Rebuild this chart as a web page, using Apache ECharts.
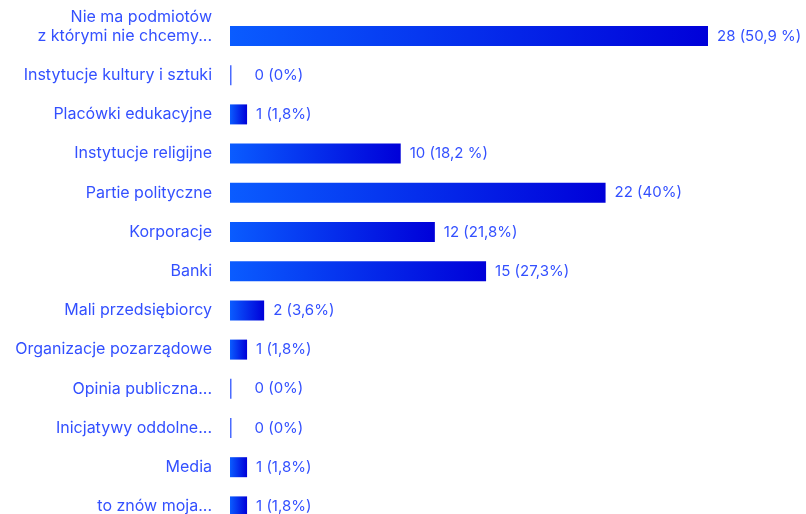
<!DOCTYPE html>
<html>
<head>
<meta charset="utf-8">
<title>Podmioty</title>
<script src="https://cdn.jsdelivr.net/npm/echarts@6/dist/echarts.min.js"></script>
<style>
  html, body { margin: 0; padding: 0; background: #ffffff; overflow: hidden; }
  #chart { width: 806px; height: 526px; }
</style>
</head>
<body>
<div id="chart"></div>
<script>
// Categories, top to bottom
const categories = [
  'Nie ma podmiotów\nz którymi nie chcemy...\n',
  'Instytucje kultury i sztuki',
  'Placówki edukacyjne',
  'Instytucje religijne',
  'Partie polityczne',
  'Korporacje',
  'Banki',
  'Mali przedsiębiorcy',
  'Organizacje pozarządowe',
  'Opinia publiczna...',
  'Inicjatywy oddolne...',
  'Media',
  'to znów moja...'
];

// Number of answers per category
const counts = [28, 0, 1, 10, 22, 12, 15, 2, 1, 0, 0, 1, 1];

// Share of answers, as printed next to each bar
const shares = ['50,9 %', '0%', '1,8%', '18,2 %', '40%', '21,8%', '27,3%', '3,6%', '1,8%', '0%', '0%', '1,8%', '1,8%'];

const textBlue = '#3350ff';
const fontFamily = 'Inter, "Noto Sans", sans-serif';

// Empty categories get a hairline marker and their label sits a little further out
const barData = counts.map(v => v === 0
  ? { value: v, itemStyle: { color: '#4a6bff' }, label: { distance: 23 } }
  : v);

// The last row runs past the bottom edge of the page, so the canvas is a little taller
const chart = echarts.init(document.getElementById('chart'), null, { renderer: 'canvas' });

chart.setOption({
  animation: false,
  backgroundColor: '#ffffff',
  grid: { left: 230, right: 98, top: 16.4, bottom: 0, containLabel: false },
  xAxis: {
    type: 'value',
    min: 0,
    max: 28,
    show: false
  },
  yAxis: {
    type: 'category',
    inverse: true,
    data: categories,
    axisLine: { show: false },
    axisTick: { show: false },
    splitLine: { show: false },
    axisLabel: {
      color: textBlue,
      fontFamily: fontFamily,
      fontSize: 16,
      lineHeight: 19,
      margin: 18,
      align: 'right'
    }
  },
  series: [{
    type: 'bar',
    data: barData,
    barWidth: 20,
    barMinHeight: 1.5,
    itemStyle: {
      color: new echarts.graphic.LinearGradient(0, 0, 1, 0, [
        { offset: 0, color: '#0a5cff' },
        { offset: 1, color: '#0000d9' }
      ])
    },
    label: {
      show: true,
      position: 'right',
      distance: 9,
      color: textBlue,
      fontFamily: fontFamily,
      fontSize: 15,
      formatter: p => counts[p.dataIndex] + ' (' + shares[p.dataIndex] + ')'
    }
  }]
});
</script>
</body>
</html>
